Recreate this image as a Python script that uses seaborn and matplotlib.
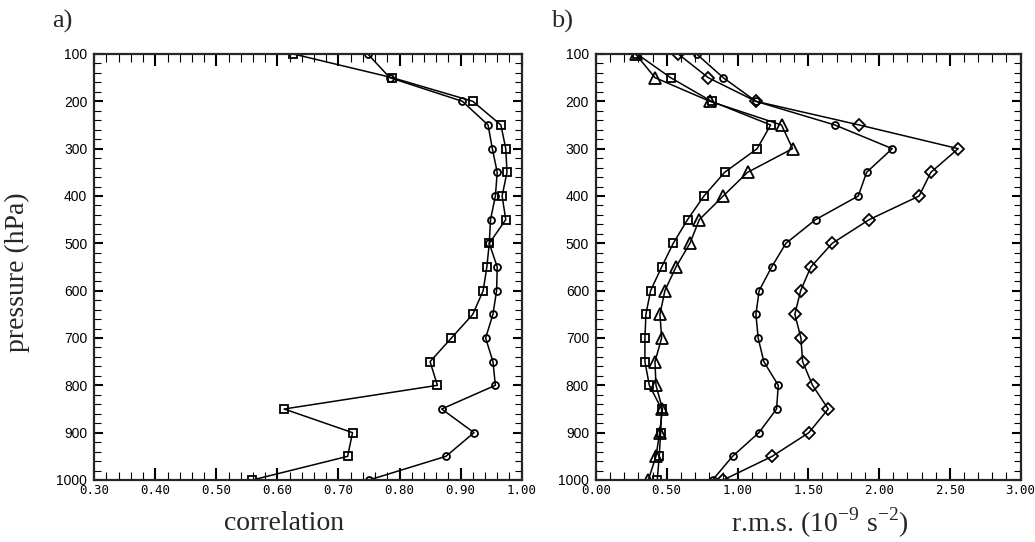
import numpy as np
import pandas as pd
import matplotlib
matplotlib.use("Agg")
import matplotlib.pyplot as plt
from matplotlib.ticker import MultipleLocator
import seaborn as sns

# pressure levels (hPa)
LEVELS = [100, 150, 200, 250, 300, 350, 400, 450, 500, 550,
          600, 650, 700, 750, 800, 850, 900, 950, 1000]

# a) correlation
CORR_SQUARE = [0.626, 0.788, 0.920, 0.966, 0.974, 0.976, 0.968, 0.974, 0.947, 0.943,
               0.937, 0.920, 0.885, 0.850, 0.862, 0.611, 0.723, 0.715, 0.559]
CORR_CIRCLE = [0.748, 0.784, 0.903, 0.945, 0.952, 0.960, 0.957, 0.949, 0.947, 0.960,
               0.959, 0.953, 0.941, 0.953, 0.957, 0.869, 0.922, 0.876, 0.750]

# b) r.m.s.
RMS_SQUARE = [0.29, 0.527, 0.817, 1.234, 1.139, 0.909, 0.763, 0.647, 0.546, 0.464,
              0.386, 0.353, 0.346, 0.346, 0.377, 0.464, 0.457, 0.447, 0.433]
RMS_TRIANGLE = [0.28, 0.417, 0.805, 1.311, 1.389, 1.071, 0.899, 0.730, 0.664, 0.565,
                0.487, 0.452, 0.464, 0.417, 0.424, 0.47, 0.45, 0.424, 0.370]
RMS_CIRCLE = [0.711, 0.899, 1.130, 1.688, 2.093, 1.912, 1.853, 1.551, 1.342, 1.241,
              1.153, 1.130, 1.146, 1.186, 1.288, 1.276, 1.151, 0.965, 0.824]
RMS_DIAMOND = [0.581, 0.793, 1.130, 1.860, 2.559, 2.366, 2.283, 1.930, 1.669, 1.518,
               1.446, 1.405, 1.448, 1.460, 1.530, 1.641, 1.504, 1.245, 0.899]

sns.set_style("ticks")
plt.rcParams["font.family"] = ["DejaVu Sans"]

fig = plt.figure(figsize=(10.35, 5.42), dpi=100)
ax_a = fig.add_axes([0.0911, 0.1144, 0.4129, 0.786])
ax_b = fig.add_axes([0.5758, 0.1144, 0.4103, 0.786])


def profile(ax, vals, marker, ms):
    df = pd.DataFrame({"val": vals, "p": LEVELS})
    sns.lineplot(data=df, x="val", y="p", ax=ax, sort=False, estimator=None,
                 orient="y", color="black", linewidth=1.1, marker=marker,
                 markersize=ms, markerfacecolor="none", markeredgecolor="black",
                 markeredgewidth=1.3, clip_on=True)


profile(ax_a, CORR_SQUARE, "s", 6)
profile(ax_a, CORR_CIRCLE, "o", 5)

profile(ax_b, RMS_SQUARE, "s", 6)
profile(ax_b, RMS_TRIANGLE, "^", 8)
profile(ax_b, RMS_CIRCLE, "o", 5)
profile(ax_b, RMS_DIAMOND, "D", 6.5)

ax_a.set_xlim(0.30, 1.00)
ax_a.xaxis.set_major_locator(MultipleLocator(0.10))
ax_a.xaxis.set_minor_locator(MultipleLocator(0.02))
ax_b.set_xlim(0.0, 3.0)
ax_b.xaxis.set_major_locator(MultipleLocator(0.5))
ax_b.xaxis.set_minor_locator(MultipleLocator(0.1))

for ax in (ax_a, ax_b):
    ax.set_ylim(1000, 100)
    ax.yaxis.set_major_locator(MultipleLocator(100))
    ax.yaxis.set_minor_locator(MultipleLocator(20))
    ax.xaxis.set_major_formatter(plt.FormatStrFormatter("%.2f"))
    ax.set_xlabel("")
    ax.set_ylabel("")
    for s in ax.spines.values():
        s.set_visible(True)
        s.set_linewidth(1.6)
    ax.tick_params(which="both", direction="in", top=True, right=True, colors="black")
    ax.tick_params(axis="x", which="major", length=8.5, width=1.5, pad=3)
    ax.tick_params(axis="x", which="minor", length=5.5, width=0.8)
    ax.tick_params(axis="y", which="major", length=6.5, width=1.5, pad=5)
    ax.tick_params(axis="y", which="minor", length=5, width=0.8)
    for lab in ax.get_xticklabels():
        lab.set_family("DejaVu Sans Mono")
        lab.set_fontsize(9)
    for lab in ax.get_yticklabels():
        lab.set_family("Liberation Sans")
        lab.set_fontsize(10)

serif = "Liberation Serif"
fig.text(0.060, 0.960, "a)", family=serif, fontsize=19, ha="center", va="center")
fig.text(0.543, 0.960, "b)", family=serif, fontsize=19, ha="center", va="center")
fig.text(0.017, 0.497, "pressure (hPa)", family=serif, fontsize=20,
         rotation=90, ha="center", va="center")
fig.text(0.274, 0.035, "correlation", family=serif, fontsize=20, ha="center", va="center")
fig.text(0.792, 0.035, r"r.m.s. (10$^{\mathregular{-9}}$ s$^{\mathregular{-2}}$)",
         family=serif, fontsize=20, ha="center", va="center")

fig.savefig("out.png", dpi=100)
